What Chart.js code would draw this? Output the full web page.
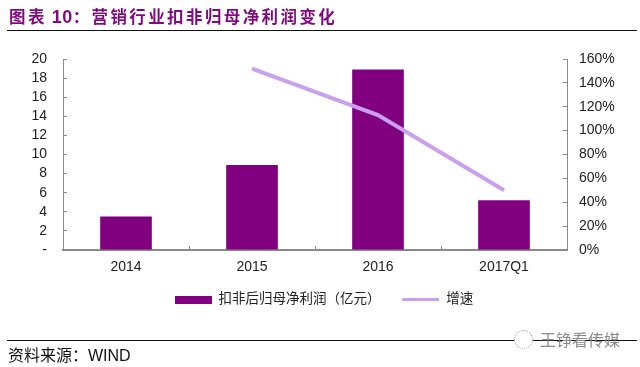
<!DOCTYPE html>
<html><head><meta charset="utf-8">
<style>
html,body{margin:0;padding:0;background:#fff;width:640px;height:367px;overflow:hidden}
#wrap{position:relative;width:640px;height:367px}
canvas#c{position:absolute;left:0;top:0}
.t{position:absolute;white-space:nowrap}
#title{left:9px;top:4px;font:bold 16.5px "Liberation Sans","Noto Sans CJK SC",sans-serif;color:#7f0a7f;letter-spacing:2.4px;word-spacing:-2px}
#title b{font-size:18px;letter-spacing:.4px}
#r1{position:absolute;left:7px;width:630px;top:30px;height:1px;background:#111}
#r2{position:absolute;left:7px;width:630px;top:340px;height:1px;background:#111}
#src{left:8px;top:342px;font:16px "Liberation Sans","Noto Sans CJK SC",sans-serif;color:#111}
#wm{left:540px;top:327px;font:16px "Noto Sans CJK SC",sans-serif;color:#8a8a8a}
#ic{position:absolute;left:514px;top:330px;width:17px;height:17px;border:1px dotted #999;border-radius:50%;background:#fff}
</style></head><body>
<div id="wrap">
<canvas id="c" width="640" height="367"></canvas>
<div class="t" id="title">图表 <b>10</b>：营销行业扣非归母净利润变化</div>
<div id="r1"></div><div id="r2"></div>
<div class="t" id="src">资料来源：WIND</div>
<div id="ic"></div>
<div class="t" id="wm">王铮看传媒</div>
</div>
<script src="https://cdn.jsdelivr.net/npm/chart.js@4"></script>
<script>
const categories=['2014','2015','2016','2017Q1'];
const profit=[3.5,8.9,18.9,5.2];
const growth=[null,152,113,50];
const barName='扣非后归母净利润（亿元）';
const lineName='增速';
const font={family:'"Liberation Sans","Noto Sans CJK SC",sans-serif',size:14};
function swatch(w,h,col){const s=document.createElement('canvas');s.width=w;s.height=h;const x=s.getContext('2d');x.fillStyle=col;x.fillRect(0,0,w,h);return s;}
new Chart(document.getElementById('c'),{
 data:{labels:categories,datasets:[
  {type:'line',label:lineName,data:growth,yAxisID:'y2',borderColor:'#c9a0ee',borderWidth:4,pointRadius:0,tension:0,spanGaps:false,order:1,pointStyle:swatch(37,3,'#c9a0ee')},
  {type:'bar',label:barName,data:profit,yAxisID:'y',backgroundColor:'#800080',barPercentage:.41,categoryPercentage:1,order:2,pointStyle:swatch(37,8,'#800080')}
 ]},
 options:{responsive:false,animation:false,
  layout:{padding:{left:8,right:0,top:59,bottom:52}},
  plugins:{title:{display:false},tooltip:{enabled:false},
   legend:{position:'bottom',reverse:true,maxHeight:40,labels:{usePointStyle:true,pointStyleWidth:37,boxHeight:12,color:'#222',font:{family:font.family,size:13.5},padding:18,
     generateLabels(chart){const items=Chart.defaults.plugins.legend.labels.generateLabels(chart);items.forEach(i=>{if(i.text===barName)i.text=barName+'\u00a0';});return items;}}}},
  scales:{
   x:{grid:{offset:true,drawOnChartArea:false,color:'#8a8a8a',tickLength:-4},border:{color:'#8a8a8a',width:2},ticks:{color:'#222',font,padding:13,maxRotation:0},afterFit(a){a.height=25;}},
   y:{position:'left',min:0,max:20,grid:{drawOnChartArea:false,color:'#8a8a8a',tickLength:-4},border:{color:'#8a8a8a'},afterFit(a){a.width=55;},
    ticks:{stepSize:2,autoSkip:false,color:'#222',font,padding:20,callback:v=>v===0?'-':v}},
   y2:{position:'right',min:0,max:160,grid:{drawOnChartArea:false,color:'#8a8a8a',tickLength:-4},border:{color:'#8a8a8a'},afterFit(a){a.width=73;},
    ticks:{stepSize:20,autoSkip:false,color:'#222',font,padding:16,callback:v=>v+'%'}}
  }}
});
</script>
</body></html>
